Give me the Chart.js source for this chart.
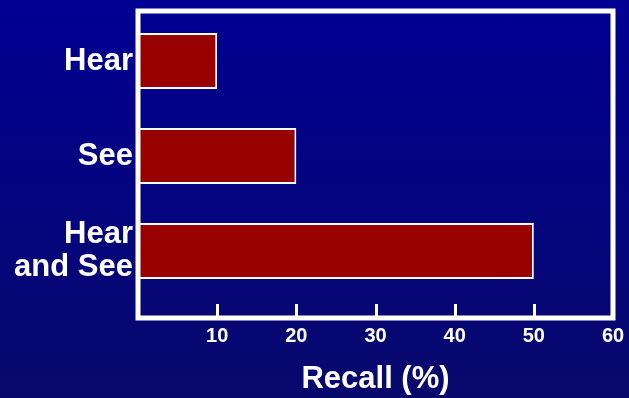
<!DOCTYPE html>
<html>
<head>
<meta charset="utf-8">
<title>Recall</title>
<script src="https://cdn.jsdelivr.net/npm/chart.js@4.4.0/dist/chart.umd.min.js"></script>
<style>
  html, body { margin: 0; padding: 0; }
  body { width: 629px; height: 398px; overflow: hidden; background: linear-gradient(#000092, #08086c); }
  #wrap { width: 629px; height: 398px; }
</style>
</head>
<body>
<div id="wrap"><canvas id="recallChart"></canvas></div>
<script>
// data
const categories = [["Hear"], ["See"], ["Hear", "and See"]];
const recall = [10, 20, 50];
const xTicks = [10, 20, 30, 40, 50, 60];

const FONT = "'Liberation Sans', Arial, sans-serif";

// white frame round the plot + little inward tick marks
const framePlugin = {
  id: "frame",
  afterDraw(chart) {
    const { ctx, chartArea: a, scales } = chart;
    ctx.save();
    ctx.strokeStyle = "#fff";
    ctx.lineWidth = 3;
    scales.x.ticks.forEach(t => {
      if (t.value <= scales.x.min || t.value >= scales.x.max) return;
      const px = Math.round(scales.x.getPixelForValue(t.value)) + 0.5;
      ctx.beginPath();
      ctx.moveTo(px, a.bottom);
      ctx.lineTo(px, a.bottom - 14);
      ctx.stroke();
    });
    ctx.lineWidth = 5;
    ctx.strokeRect(a.left, a.top, a.right - a.left, a.bottom - a.top);
    ctx.restore();
  }
};

new Chart(document.getElementById("recallChart"), {
  type: "bar",
  data: {
    datasets: [{
      data: recall.map((v, i) => ({ x: v, y: i })),
      backgroundColor: "#990000",
      borderColor: "#ffffff",
      borderWidth: 2,
      borderSkipped: false,
      barPercentage: 0.59,
      categoryPercentage: 1
    }]
  },
  options: {
    indexAxis: "y",
    responsive: true,
    maintainAspectRatio: false,
    animation: false,
    layout: { padding: { top: 11, right: 16, left: 0, bottom: 0 } },
    plugins: { legend: { display: false }, tooltip: { enabled: false } },
    scales: {
      x: {
        type: "linear",
        position: "bottom",
        min: 0,
        max: 60,
        grid: { display: false, drawTicks: false },
        border: { display: false },
        afterBuildTicks: s => { s.ticks = xTicks.map(v => ({ value: v })); },
        afterFit: s => { s.height = 80; s.paddingLeft = 0; s.paddingRight = 0; },
        ticks: {
          color: "#fff",
          padding: 6,
          font: { family: FONT, size: 20, weight: "bold" }
        },
        title: {
          display: true,
          text: "Recall (%)",
          color: "#fff",
          padding: { top: 0, bottom: 0 },
          font: { family: FONT, size: 31, weight: "bold" }
        }
      },
      y: {
        type: "linear",
        reverse: true,
        offset: false,
        min: -0.526,
        max: 2.705,
        grid: { display: false, drawTicks: false },
        border: { display: false },
        afterBuildTicks: s => { s.ticks = categories.map((c, i) => ({ value: i })); },
        afterFit: s => { s.width = 138; s.paddingTop = 0; s.paddingBottom = 0; },
        ticks: {
          color: "#fff",
          padding: 5,
          font: { family: FONT, size: 31, weight: "bold", lineHeight: 1.08 },
          callback: v => categories[v] || ""
        }
      }
    }
  },
  plugins: [framePlugin]
});
</script>
</body>
</html>
